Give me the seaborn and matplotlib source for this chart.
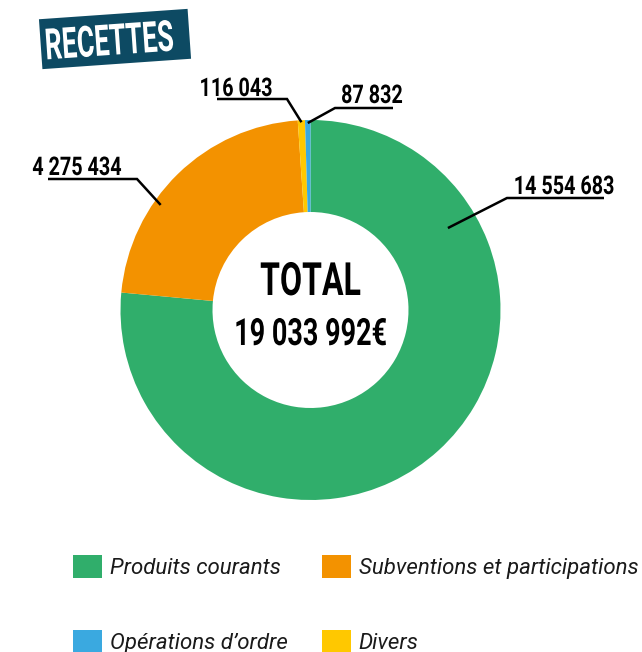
import numpy as np
import matplotlib
matplotlib.use("Agg")
import matplotlib.pyplot as plt
import matplotlib.patches as mpatches
from matplotlib.patheffects import AbstractPathEffect
from matplotlib.transforms import Affine2D
import seaborn as sns

# ---- data ----
categories = ["Produits courants", "Subventions et participations", "Divers", "Opérations d’ordre"]
values = [14554683, 4275434, 116043, 87832]
value_labels = ["14 554 683", "4 275 434", "116 043", "87 832"]
colors = ["#30AE6B", "#F39200", "#FFC800", "#3AA9E0"]
title_text = "RECETTES"
total_title = "TOTAL"
total_label = "19 033 992€"

sns.set_theme(style="white")
plt.rcParams['font.family'] = ['Roboto', 'DejaVu Sans']


class Condense(AbstractPathEffect):
    """Draw text glyphs horizontally compressed (about the text centre)."""
    def __init__(self, sx=0.7, angle=0.0):
        super().__init__()
        self.sx = sx
        self.angle = angle

    def draw_path(self, renderer, gc, tpath, affine, rgbFace=None):
        bb = tpath.get_extents(affine)
        x0, y0 = (bb.x0 + bb.x1) / 2, (bb.y0 + bb.y1) / 2
        t = (Affine2D().translate(-x0, -y0).rotate_deg(-self.angle)
             .scale(self.sx, 1).rotate_deg(self.angle).translate(x0, y0))
        renderer.draw_path(gc, tpath, affine + t, rgbFace)


W, H = 642, 652
fig = plt.figure(figsize=(W / 100, H / 100), dpi=100)
ax = fig.add_axes([0, 0, 1, 1])

cx, cy, R = 310.5, H - 310, 190
wedges, _ = ax.pie(values, colors=colors, startangle=90, counterclock=False,
                   center=(cx, cy), radius=R,
                   wedgeprops=dict(width=92, linewidth=0))
ax.set_xlim(0, W)
ax.set_ylim(0, H)
ax.set_aspect('equal')
ax.axis('off')

SX = 0.77
# ---- value labels with leader lines (layout in image pixel coords) ----
# (fraction along wedge, radius, text center x, text baseline y, elbow x, end x, line y)
layout = [
    (0.215, 160, 564, 194, 507, 604, 198),
    (0.368, 183, 77, 175, 137, 48, 179),
    (0.5, 188, 236, 96, 287, 217, 99),
    (0.5, 187, 372, 103, 335, 393, 108),
]
for w, lab, (frac, r, tx, tb, ex, endx, ly) in zip(wedges, value_labels, layout):
    ang = np.deg2rad(w.theta2 - frac * (w.theta2 - w.theta1))
    axp = cx + r * np.cos(ang)
    ayp = cy + r * np.sin(ang)
    ax.plot([axp, ex, endx], [ayp, H - ly, H - ly], color='black', lw=1.8,
            solid_capstyle='butt', solid_joinstyle='miter')
    ax.text(tx, H - tb, lab, ha='center', va='baseline', fontsize=18.5,
            fontweight='bold', color='black', path_effects=[Condense(SX)])

# ---- center total ----
ax.text(cx, H - 295, total_title, ha='center', va='baseline', fontsize=33,
        fontweight='bold', color='black', path_effects=[Condense(0.70)])
ax.text(cx, H - 345, total_label, ha='center', va='baseline', fontsize=27,
        fontweight='bold', color='black', path_effects=[Condense(0.72)])

# ---- title banner ----
banner = mpatches.Rectangle((115 - 74.5, H - 39 - 25), 149, 50, angle=4,
                            rotation_point='center', facecolor='#0D4A63',
                            edgecolor='none')
ax.add_patch(banner)
ax.text(109, H - 39, title_text, ha='center', va='center_baseline', fontsize=31,
        fontweight='bold', color='white', rotation=4, rotation_mode='anchor',
        path_effects=[Condense(0.62, angle=4)])

# ---- legend ----
order = [0, 3, 1, 2]
leg = fig.legend([wedges[i] for i in order], [categories[i] for i in order],
                 loc='upper left', bbox_to_anchor=(73 / W, 1 - 555 / H),
                 ncol=2, frameon=False, prop=dict(size=16, style='italic'),
                 handlelength=1.3, handleheight=1.22, handletextpad=0.36,
                 labelspacing=2.3, columnspacing=1.53, borderpad=0, borderaxespad=0)
for t in leg.get_texts():
    t.set_color('#1a1a1a')

fig.savefig("out.png", dpi=100)
